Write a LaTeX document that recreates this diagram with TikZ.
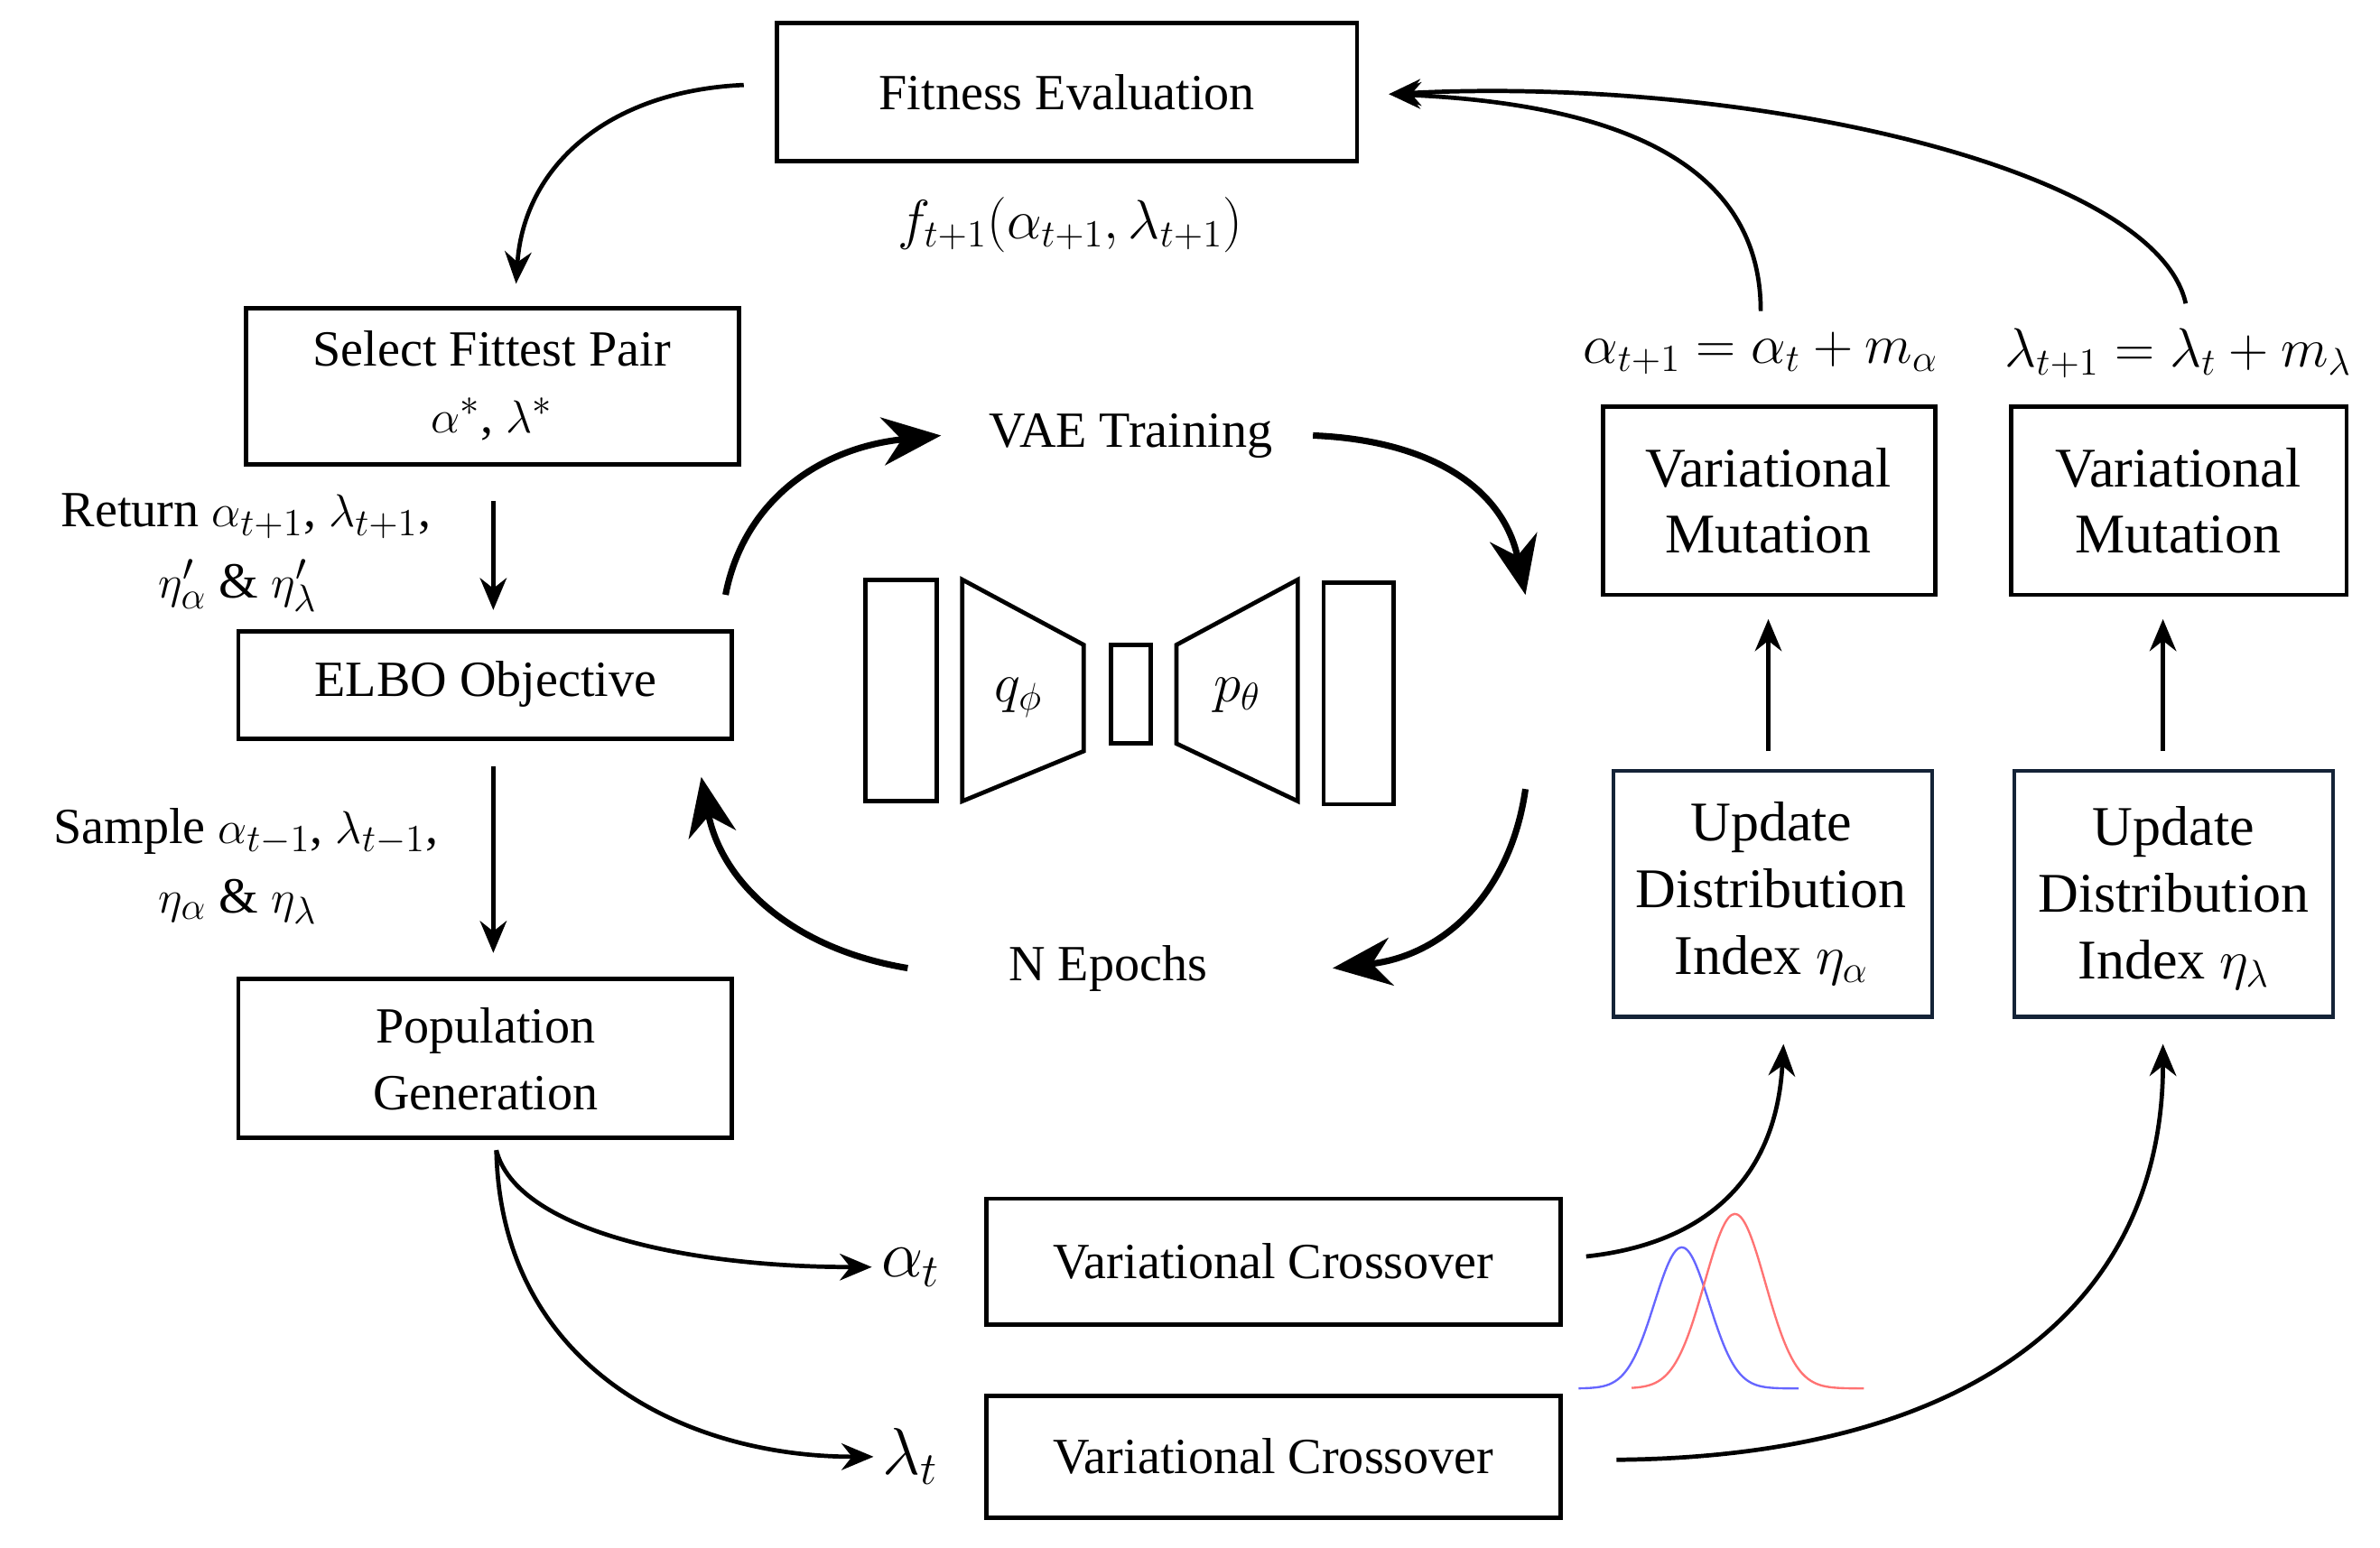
\documentclass[tikz,border=0pt]{standalone}
\usepackage{fontspec}
\setmainfont{Liberation Serif}
\usetikzlibrary{arrows.meta}
\begin{document}
\begin{tikzpicture}[x=0.02cm,y=-0.02cm,
 box/.style={draw,line width=1.6pt,minimum width=#1,inner sep=0pt,align=center,font=\fontsize{19}{25}\selectfont},
 lbl/.style={font=\fontsize{19}{25}\selectfont,align=right},
 mlbl/.style={font=\fontsize{22}{26}\selectfont},
 arr/.style={line width=1.6pt,-{Stealth[length=12pt,width=10pt]}},
 big/.style={line width=2.4pt,-{Stealth[length=22pt,width=18pt]}}]
\useasboundingbox (0,0) rectangle (1568,1020);
\node[box=0pt,draw=none] (fit) at (703,61) {Fitness Evaluation};
\draw[line width=1.6pt] (512,15) rectangle (894,106);
\node[box=0pt,draw=none] (sel) at (324,254) {Select Fittest Pair\\$\alpha^*$, $\lambda^*$};
\draw[line width=1.6pt] (162,203) rectangle (487,306);
\node[box=0pt,draw=none] (elbo) at (320,451) {ELBO Objective};
\draw[line width=1.6pt] (157,416) rectangle (482,487);
\node[box=0pt,draw=none] (pop) at (320,698) {Population\\Generation};
\draw[line width=1.6pt] (157,645) rectangle (482,750);
\node[box=0pt,draw=none] (vm1) at (1165,330) {\fontsize{21}{27}\selectfont Variational\\\fontsize{21}{27}\selectfont Mutation};
\draw[line width=1.6pt] (1056,268) rectangle (1275,392);
\node[box=0pt,draw=none] (vm2) at (1435,330) {\fontsize{21}{27}\selectfont Variational\\\fontsize{21}{27}\selectfont Mutation};
\draw[line width=1.6pt] (1325,268) rectangle (1546,392);
\node[box=0pt,draw=none] (ud1) at (1167,589) {\fontsize{21}{27}\selectfont Update\\\fontsize{21}{27}\selectfont Distribution\\\fontsize{21}{27}\selectfont Index $\eta_\alpha$};
\draw[line width=1.6pt,draw={rgb,255:red,20;green,35;blue,55}] (1063,508) rectangle (1273,670);
\node[box=0pt,draw=none] (ud2) at (1432,592) {\fontsize{21}{27}\selectfont Update\\\fontsize{21}{27}\selectfont Distribution\\\fontsize{21}{27}\selectfont Index $\eta_\lambda$};
\draw[line width=1.6pt,draw={rgb,255:red,20;green,35;blue,55}] (1327,508) rectangle (1537,670);
\node[box=0pt,draw=none] (vc1) at (839,831) {Variational Crossover};
\draw[line width=1.6pt] (650,790) rectangle (1028,873);
\node[box=0pt,draw=none] (vc2) at (839,960) {Variational Crossover};
\draw[line width=1.6pt] (650,920) rectangle (1028,1000);
\node[mlbl] (fl) at (705,148) {$f_{t+1}(\alpha_{t+1},\lambda_{t+1})$};
\node[lbl,anchor=east] (rl) at (290,340) {Return $\alpha_{t+1}$, $\lambda_{t+1}$,};
\node[lbl,anchor=east] (rl2) at (215,386) {$\eta'_\alpha$ \& $\eta'_\lambda$};
\node[lbl,anchor=east] (sl) at (295,548) {Sample $\alpha_{t-1}$, $\lambda_{t-1}$,};
\node[lbl,anchor=east] (sl2) at (215,594) {$\eta_\alpha$ \& $\eta_\lambda$};
\node[lbl] (vt) at (745,287) {VAE Training};
\node[lbl] (ne) at (730,638) {N Epochs};
\node[mlbl] (m1) at (1160,233) {$\alpha_{t+1}=\alpha_t+m_\alpha$};
\node[mlbl] (m2) at (1435,233) {$\lambda_{t+1}=\lambda_t+m_\lambda$};
\node[font=\fontsize{27}{30}\selectfont] (at) at (600,835) {$\alpha_t$};
\node[font=\fontsize{27}{30}\selectfont] (lt) at (600,960) {$\lambda_t$};
\node[font=\fontsize{21}{24}\selectfont] (q) at (671,460) {$q_\phi$};
\node[font=\fontsize{21}{24}\selectfont] (p) at (815,458) {$p_\theta$};
\draw[line width=1.6pt] (570,382) rectangle (617,528);
\draw[line width=1.6pt] (634,382) -- (714,425) -- (714,495) -- (634,528) -- cycle;
\draw[line width=1.6pt] (732,425) rectangle (758,490);
\draw[line width=1.6pt] (855,382) -- (775,425) -- (775,490) -- (855,528) -- cycle;
\draw[line width=1.6pt] (872,384) rectangle (918,530);
\coordinate (c1) at (490,56); \coordinate (c1e) at (340,187);
\coordinate (m1s) at (1160,205); \coordinate (m2s) at (1440,200); \coordinate (fe) at (915,62);
\coordinate (r1) at (325,330); \coordinate (r1e) at (325,402);
\coordinate (s1) at (325,505); \coordinate (s1e) at (325,628);
\coordinate (ps) at (327,758);
\draw[arr] (c1) .. controls (400,60) and (345,110) .. (c1e);
\draw[arr] (m1s) .. controls (1160,100) and (1050,68) .. (fe);
\draw[arr] (m2s) .. controls (1420,110) and (1150,50) .. (fe);
\draw[arr] (r1) -- (r1e);
\draw[arr] (s1) -- (s1e);
\draw[arr] (1165,495) -- (1165,408);
\draw[arr] (1425,495) -- (1425,408);
\draw[arr] (ps) .. controls (340,810) and (450,835) .. (at.west);
\draw[arr] (ps) .. controls (330,900) and (450,960) .. (lt.west);
\draw[arr] (1045,828) .. controls (1120,820) and (1170,780) .. (1175,688);
\draw[arr] (1065,962) .. controls (1300,960) and (1425,860) .. (1425,688);
\draw[big] (478,392) .. controls (490,330) and (540,295) .. (620,287);
\draw[big] (865,287) .. controls (940,290) and (990,320) .. (1005,392);
\draw[big] (1005,520) .. controls (995,590) and (950,630) .. (878,638);
\draw[big] (598,638) .. controls (520,625) and (475,580) .. (462,512);
\draw[blue!60,line width=0.8pt] plot[domain=1040:1185,samples=80,smooth] (\x,{915-93*exp(-((\x-1108)/18)^2/2)});
\draw[red!55,line width=0.8pt] plot[domain=1075:1228,samples=80,smooth] (\x,{915-115*exp(-((\x-1143)/20)^2/2)});
\end{tikzpicture}
\end{document}
